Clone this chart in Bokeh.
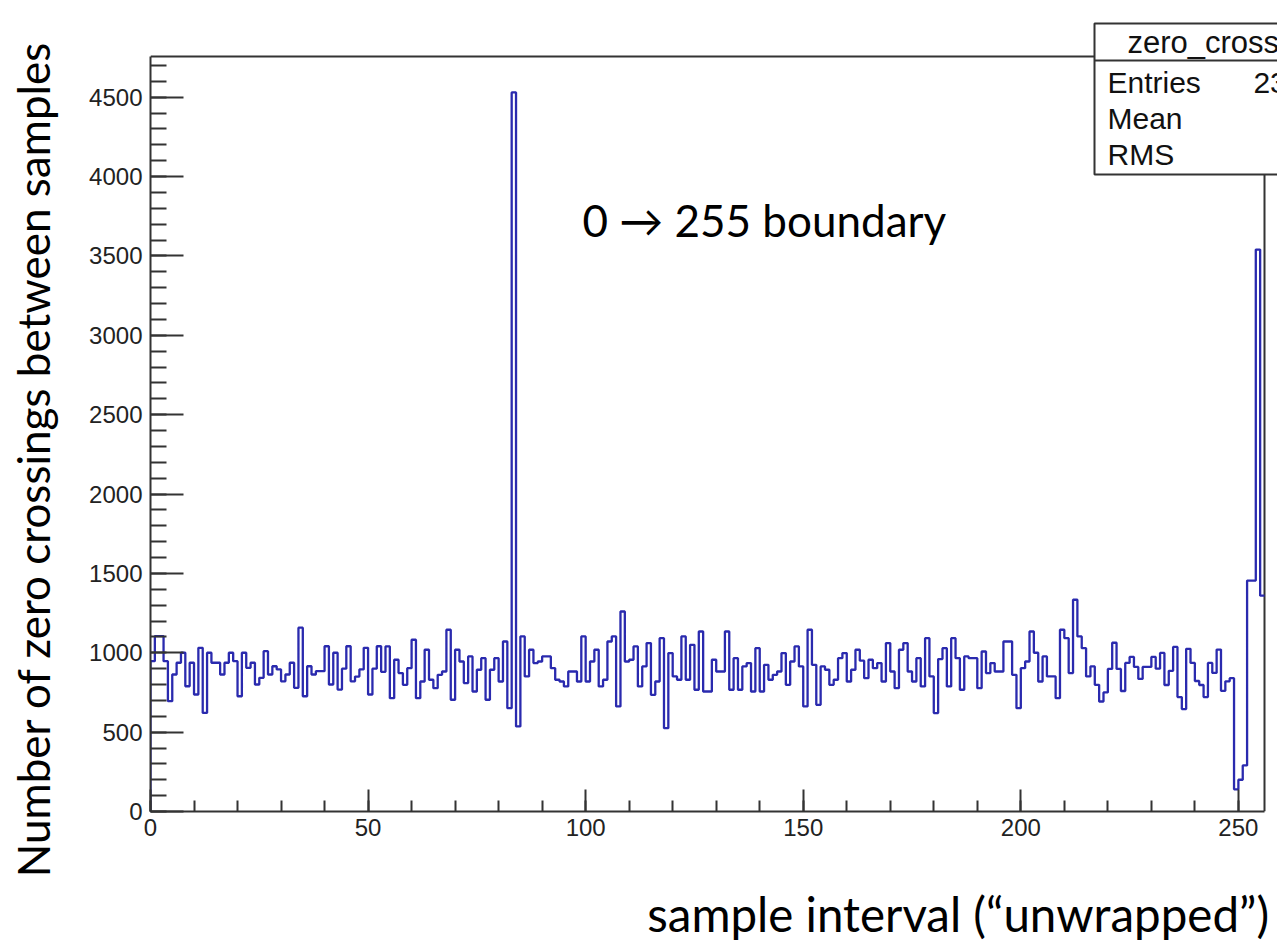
import math
from bokeh.plotting import figure
from bokeh.models import Range1d, FixedTicker, Label
from bokeh.layouts import row, column
from bokeh.embed import file_html
from bokeh.resources import INLINE
from bokeh.core.properties import value

# ---------------- data ----------------
hist_name = "zero_crossings"
x_title = "sample interval (\u201cunwrapped\u201d)"
y_title = "Number of zero crossings  between samples"
note_text = "0 \u2192 255 boundary"

bin_edges = list(range(0, 257))          # 256 bins of width 1
counts = [
    947, 1105, 1105, 947, 695, 863, 937, 1000, 789, 937,
    737, 1031, 621, 1000, 937, 937, 863, 937, 1000, 947,
    726, 1000, 905, 937, 800, 842, 1010, 863, 915, 895,
    820, 863, 937, 779, 1158, 726, 915, 863, 884, 884,
    1041, 800, 1000, 768, 900, 1041, 820, 850, 895, 1031,
    737, 900, 1041, 880, 1040, 714, 956, 872, 798, 903,
    1082, 714, 819, 1019, 830, 777, 861, 882, 1145, 704,
    1019, 945, 809, 977, 756, 893, 966, 704, 893, 966,
    819, 1071, 651, 4530, 536, 1103, 851, 1019, 935, 945,
    977, 977, 903, 830, 819, 788, 882, 882, 819, 1103,
    819, 945, 1019, 788, 830, 1071, 1103, 662, 1260, 945,
    956, 1040, 788, 914, 1061, 735, 819, 1092, 525, 998,
    851, 830, 1103, 830, 1050, 767, 1134, 756, 756, 956,
    882, 882, 1134, 767, 966, 767, 914, 935, 756, 1029,
    756, 924, 830, 861, 882, 998, 798, 945, 1040, 914,
    662, 1145, 924, 672, 914, 893, 798, 830, 966, 998,
    819, 893, 1019, 950, 840, 956, 903, 935, 819, 1061,
    882, 777, 1019, 1061, 882, 819, 966, 788, 1092, 851,
    620, 960, 1029, 788, 1092, 966, 767, 977, 966, 966,
    777, 1008, 872, 935, 882, 882, 1071, 1071, 861, 651,
    903, 945, 1134, 1000, 819, 977, 851, 851, 714, 1145,
    1092, 872, 1334, 1103, 1029, 851, 914, 798, 693, 750,
    898, 1063, 898, 759, 936, 974, 911, 835, 911, 911,
    974, 900, 999, 797, 886, 1037, 721, 645, 1025, 936,
    822, 797, 721, 936, 873, 1020, 760, 820, 840, 140,
    200, 290, 1455, 1455, 3540, 1360,
]
assert len(counts) == len(bin_edges) - 1

y_major = list(range(0, 4501, 500))
y_minor = list(range(0, 4701, 100))
x_major = list(range(0, 251, 50))
x_minor = list(range(0, 256, 10))

# statistics shown in the box (derived from the counts)
entries = sum(counts)
centers = [e + 0.5 for e in bin_edges[:-1]]
mean = sum(c * v for c, v in zip(centers, counts)) / entries
rms = math.sqrt(sum(v * (c - mean) ** 2 for c, v in zip(centers, counts)) / entries)
stat_names = ["Entries", "Mean", "RMS"]
stat_values = [f"{entries}", f"{mean:.4g}", f"{rms:.4g}"]

# ---------------- layout (page pixels) ----------------
W, H = 1277, 945
A = 75                 # width of the strip holding the y title
MAIN_H = 860           # height of the main figure
F_LEFT, F_RIGHT_AXIS, F_BOTTOM, F_TOP_AXIS = 150, 1264, 811, 56
x_hi = bin_edges[-1]
y_hi = 1.05 * max(counts)
sx = (F_RIGHT_AXIS - F_LEFT) / x_hi
sy = (F_BOTTOM - F_TOP_AXIS) / y_hi


def X(px):
    return (px - F_LEFT) / sx


def Y(py):
    return (F_BOTTOM - py) / sy


AX = "#333333"
HIST = "#2a2aae"
TICK_FONT = "Liberation Sans"
TEXT_FONT = "Lato"
STAT_SIZE = "30px"

p = figure(width=W - A, height=MAIN_H, output_backend="svg", toolbar_location=None,
           x_range=Range1d(0, X(W)), y_range=Range1d(0, Y(0)),
           min_border_left=F_LEFT - A, min_border_right=0,
           min_border_top=0, min_border_bottom=MAIN_H - F_BOTTOM)
p.outline_line_color = None
p.grid.visible = False
p.background_fill_color = "white"
p.border_fill_color = "white"

for ax, major, minor, bounds, tin, mtin in (
        (p.xaxis, x_major, x_minor, (0, x_hi), 22, 11),
        (p.yaxis, y_major, y_minor, (0, y_hi), 33, 16)):
    ax.ticker = FixedTicker(ticks=major, minor_ticks=minor)
    ax.bounds = bounds
    ax.major_tick_in = tin
    ax.major_tick_out = 0
    ax.minor_tick_in = mtin
    ax.minor_tick_out = 0
    ax.axis_line_color = AX
    ax.axis_line_width = 2
    ax.major_tick_line_color = AX
    ax.major_tick_line_width = 2
    ax.minor_tick_line_color = AX
    ax.minor_tick_line_width = 2
    ax.major_label_text_font = TICK_FONT
    ax.major_label_text_font_size = "24px"
    ax.major_label_text_color = "#222222"
p.xaxis.major_label_standoff = 7
p.yaxis.major_label_standoff = 8
p.yaxis.major_label_orientation = "horizontal"

# frame top / right lines
p.segment(x0=[0, x_hi], y0=[y_hi, 0], x1=[x_hi, x_hi], y1=[y_hi, y_hi],
          line_color=AX, line_width=2)

# histogram outline
step_x = [bin_edges[0]] + bin_edges
step_y = [0] + counts + [counts[-1]]
p.step(x=step_x, y=step_y, mode="after", line_color=HIST, line_width=2.3)

# statistics box
bx0, bx1 = X(1094), X(W + 40)
by0, by1, bdiv = Y(174), Y(23), Y(60)
p.quad(left=[bx0], right=[bx1], bottom=[by0], top=[by1], fill_color="white",
       line_color=AX, line_width=2, level="overlay")
p.segment(x0=[bx0], y0=[bdiv], x1=[bx1], y1=[bdiv], line_color=AX,
          line_width=2, level="overlay")
p.text(x=[X(1127)], y=[Y(42)], text=[hist_name], text_font=value(TICK_FONT),
       text_font_size="31px", text_baseline="middle", text_align="left",
       text_color="#111111", level="overlay")
row_y = [Y(82), Y(118), Y(154)]
p.text(x=[X(1107)] * 3, y=row_y, text=stat_names, text_font=value(TICK_FONT),
       text_font_size=STAT_SIZE, text_baseline="middle", text_align="left",
       text_color="#111111", level="overlay")
p.text(x=[X(1353)] * 3, y=row_y, text=stat_values, text_font=value(TICK_FONT),
       text_font_size=STAT_SIZE, text_baseline="middle", text_align="right",
       text_color="#111111", level="overlay")

# note inside the frame
p.add_layout(Label(x=X(582), y=Y(219), text=note_text, text_align="left",
                   text_baseline="alphabetic", text_font=TEXT_FONT,
                   text_font_size="44px", text_color="black"))


def strip(width, height, xr, yr):
    f = figure(width=width, height=height, output_backend="svg",
               toolbar_location=None, x_range=Range1d(*xr), y_range=Range1d(*yr),
               x_axis_type=None, y_axis_type=None, min_border=0,
               min_border_left=0, min_border_right=0, min_border_top=0,
               min_border_bottom=0)
    f.outline_line_color = None
    f.background_fill_color = "white"
    f.border_fill_color = "white"
    return f


# y title strip (page coordinates, y downwards)
ystrip = strip(A, H, (0, A), (H, 0))
ystrip.add_layout(Label(x=32, y=453, text=y_title, angle=math.pi / 2,
                        text_align="center", text_baseline="middle",
                        text_font=TEXT_FONT, text_font_size="44px",
                        text_color="black"))

# x title strip (page coordinates, y downwards)
xstrip = strip(W - A, H - MAIN_H, (A, W), (H, MAIN_H))
xstrip.add_layout(Label(x=1268, y=913, text=x_title, text_align="right",
                        text_baseline="alphabetic", text_font=TEXT_FONT,
                        text_font_size="47.5px", text_color="black"))

layout = row(ystrip, column(p, xstrip, spacing=0), spacing=0)
open("out.html", "w").write(file_html(layout, INLINE))
